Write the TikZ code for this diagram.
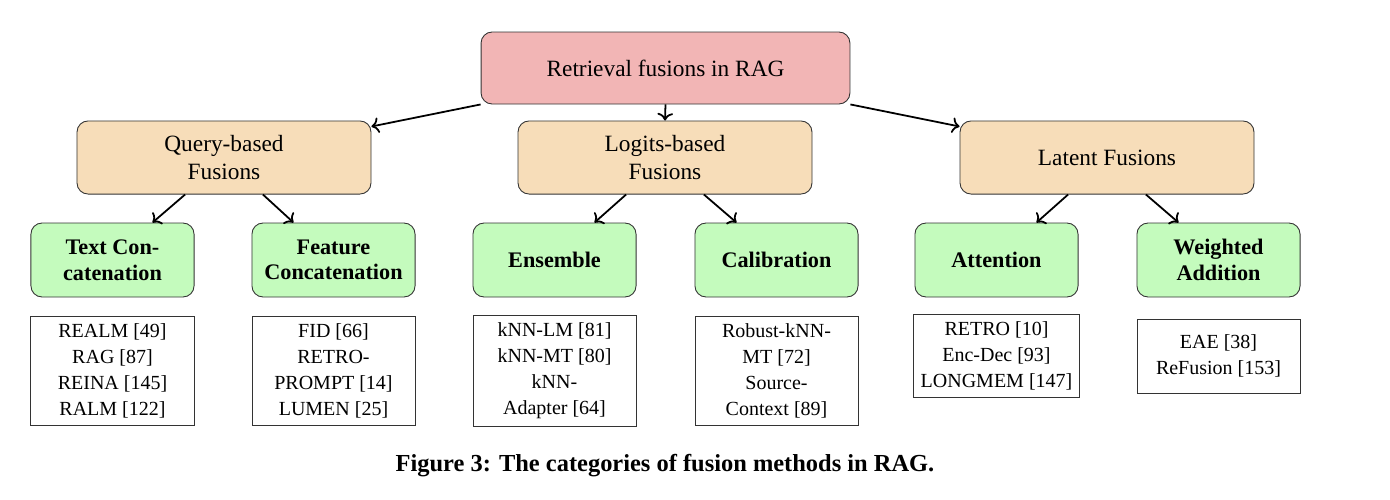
\documentclass[tikz,border=0pt]{standalone}
\usepackage{fontspec}
\setmainfont{Liberation Serif}
\usepackage{xcolor}
\usepackage{tikz}
\usetikzlibrary{arrows.meta, positioning}
\definecolor{rootpink}{RGB}{242,181,181}
\definecolor{catsand}{RGB}{247,221,185}
\definecolor{methgreen}{RGB}{196,251,189}
\tikzset{
  rootbox/.style={draw=black!80, fill=rootpink, rounded corners=5pt, minimum width=166pt, minimum height=32.4pt, font=\fontsize{10.5}{13}\selectfont},
  catbox/.style={draw=black!80, fill=catsand, rounded corners=5pt, minimum width=132.3pt, minimum height=32.9pt, align=center, font=\fontsize{10.5}{13}\selectfont},
  methbox/.style={draw=black!80, fill=methgreen, rounded corners=5pt, minimum width=73.4pt, minimum height=33.3pt, align=center, font=\fontsize{10}{11.5}\selectfont\bfseries},
  refbox/.style={draw=black!80, fill=white, minimum width=73.4pt, inner ysep=3.4pt, align=center, font=\fontsize{9}{11.7}\selectfont},
  arr/.style={thick, -{To}},
}
\begin{document}
\begin{tikzpicture}[x=0.45pt, y=-0.45pt]
% \draw[help lines, dashed, red] (0,0) grid[step=100] (1390,499);
\useasboundingbox (0,0) rectangle (1390,499);
\node[rootbox] (rag) at (665.5,68) {Retrieval fusions in RAG};
\node[catbox] (query) at (224,157.5) {Query-based\\Fusions};
\node[catbox] (logits) at (665,157.5) {Logits-based\\Fusions};
\node[catbox] (latent) at (1107,157.5) {Latent Fusions};
\node[methbox] (textcat) at (112.5,260) {Text Con-\\catenation};
\node[methbox] (featcat) at (333.5,260) {Feature\\Concatenation};
\node[methbox] (ensemble) at (554.5,260) {Ensemble};
\node[methbox] (calib) at (776.5,260) {Calibration};
\node[methbox] (attn) at (996.5,260) {Attention};
\node[methbox] (weighted) at (1218.5,260) {Weighted\\Addition};
\node[refbox] (textcatref) at (112.5,371) {REALM [49]\\RAG [87]\\REINA [145]\\RALM [122]};
\node[refbox] (featcatref) at (333.5,371) {FID [66]\\RETRO-\\PROMPT [14]\\LUMEN [25]};
\node[refbox] (ensembleref) at (554.5,371) {kNN-LM [81]\\kNN-MT [80]\\kNN-\\Adapter [64]};
\node[refbox] (calibref) at (776.5,371) {Robust-kNN-\\MT [72]\\Source-\\Context [89]};
\node[refbox] (attnref) at (996.5,356) {RETRO [10]\\Enc-Dec [93]\\LONGMEM [147]};
\node[refbox, minimum height=33.3pt] (weightedref) at (1218.5,356) {EAE [38]\\ReFusion [153]};
\draw[arr] (rag.south west) -- ([yshift=-2.7pt]query.north east);
\draw[arr] (rag.south) -- (logits.north);
\draw[arr] (rag.south east) -- ([yshift=-2.7pt]latent.north west);
\draw[arr] ([xshift=-17.5pt]query.south) -- ([xshift=18pt]textcat.north);
\draw[arr] ([xshift=17.5pt]query.south) -- ([xshift=-18pt]featcat.north);
\draw[arr] ([xshift=-17.5pt]logits.south) -- ([xshift=18pt]ensemble.north);
\draw[arr] ([xshift=17.5pt]logits.south) -- ([xshift=-18pt]calib.north);
\draw[arr] ([xshift=-17.5pt]latent.south) -- ([xshift=18pt]attn.north);
\draw[arr] ([xshift=17.5pt]latent.south) -- ([xshift=-18pt]weighted.north);
\node[font=\fontsize{11}{13}\selectfont\bfseries] (caption) at (665,466) {Figure 3: The categories of fusion methods in RAG.};
\end{tikzpicture}
\end{document}
